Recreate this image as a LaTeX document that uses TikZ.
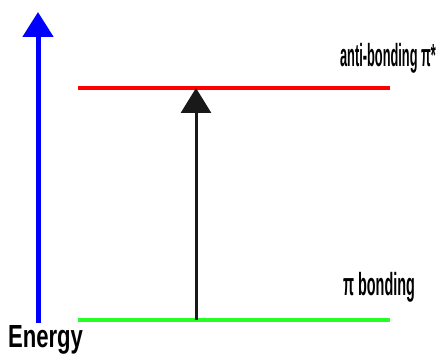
\documentclass[tikz,border=0pt]{standalone}
\usepackage{fontspec}
\setmainfont{Liberation Sans}
\usetikzlibrary{positioning,arrows.meta}
\tikzset{
level/.style={
  line width=4.5pt,
  draw=#1
  },
lbl/.style={
  inner sep=0pt,
  font=\fontsize{32}{32}\selectfont\bfseries,
  transform shape
  },
uparrow/.style={
  -{Triangle[length=25pt,width=30pt]},
  draw=#1,
  }
}

\begin{document}
\begin{tikzpicture}[x=1pt,y=-1pt]
\useasboundingbox (0,0) rectangle (442,358);

% energy levels
\coordinate (lumoL) at (78,88);
\coordinate (lumoR) at (390,88);
\coordinate (homoL) at (78,320);
\coordinate (homoR) at (390,320);
\draw[level=red] (lumoL) -- (lumoR);
\draw[level={green!85!white}] (homoL) -- (homoR);

\node[lbl,xscale=0.40,anchor=base east] (anti) at (436,67) {anti-bonding π*};
\node[lbl,xscale=0.45,anchor=base east] (bond) at (415,295) {π bonding};

% energy axis
\coordinate (e0) at (38,323);
\coordinate (e1) at (38,12);
\draw[uparrow=blue,line width=5pt] (e0) -- (e1);
\node[lbl,xscale=0.69,anchor=base west] (energy) at (8,347) {Energy};

% excitation
\coordinate (ex0) at (196,320);
\coordinate (ex1) at (196,88);
\draw[uparrow=black!90,line width=3pt] (ex0) -- (ex1);
\end{tikzpicture}
\end{document}
